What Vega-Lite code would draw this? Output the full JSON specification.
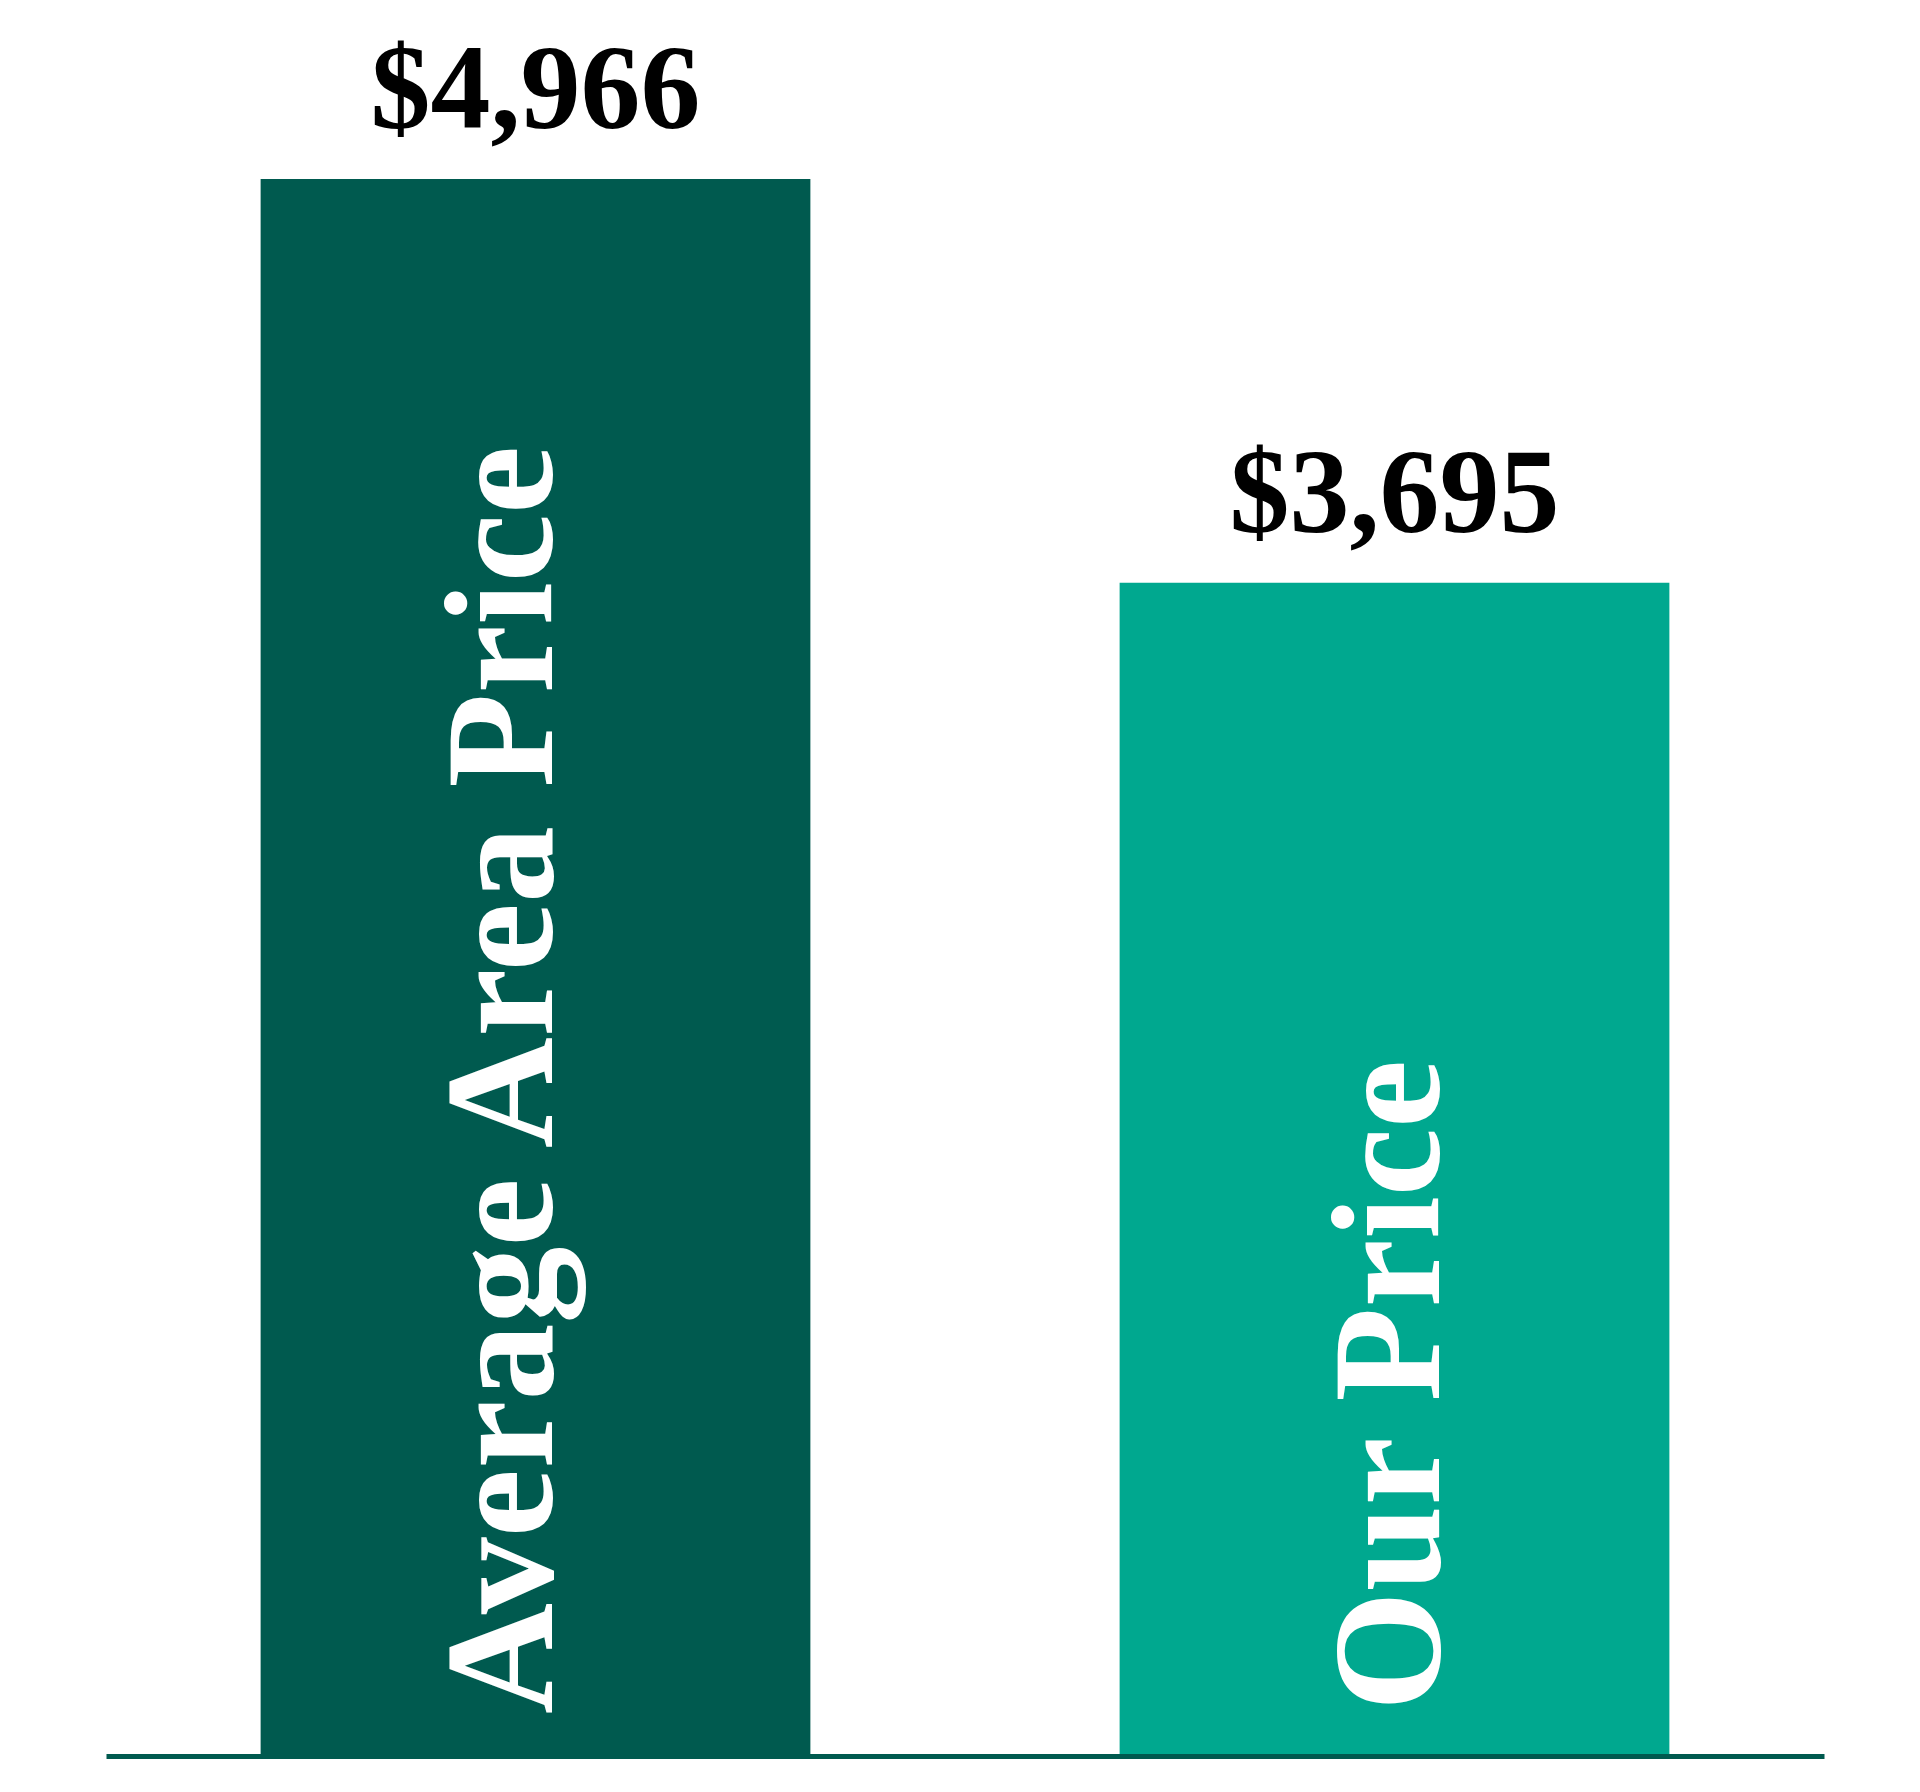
{
  "$schema": "https://vega.github.io/schema/vega-lite/v6.json",
  "background": "#ffffff",
  "autosize": {"type": "none"},
  "padding": {"left": 106, "top": 0, "right": 96, "bottom": 36},
  "width": 1718,
  "height": 1756,
  "view": {"stroke": null},
  "data": {
    "values": [
      {"label": "Average Area Price", "value": 4966},
      {"label": "Our Price", "value": 3695}
    ]
  },
  "encoding": {
    "x": {
      "field": "label", "type": "nominal", "sort": null,
      "scale": {"paddingInner": 0.36, "paddingOuter": 0.18},
      "axis": {
        "title": null, "labels": false, "ticks": false, "grid": false,
        "domainColor": "#005A4F", "domainWidth": 5, "zindex": 1
      }
    },
    "y": {
      "field": "value", "type": "quantitative",
      "scale": {"domain": [0, 5530], "nice": false, "zero": true},
      "axis": null
    },
    "color": {
      "field": "label", "type": "nominal",
      "scale": {"domain": ["Average Area Price", "Our Price"], "range": ["#005A4F", "#00A88F"]},
      "legend": null
    }
  },
  "layer": [
    {"mark": {"type": "bar"}},
    {
      "mark": {
        "type": "text", "font": "Liberation Serif", "fontWeight": "bold",
        "fontSize": 120, "baseline": "alphabetic", "align": "center",
        "dy": -51, "color": "#000000"
      },
      "encoding": {
        "text": {"field": "value", "type": "quantitative", "format": "$,.0f"},
        "color": {"value": "#000000"}
      }
    },
    {
      "transform": [{"filter": "datum.label == 'Average Area Price'"}],
      "mark": {
        "type": "text", "font": "Liberation Serif", "fontWeight": "bold",
        "fontSize": 154, "angle": 270, "align": "left", "baseline": "alphabetic",
        "dx": 42, "dy": 16
      },
      "encoding": {
        "y": {"datum": 0, "type": "quantitative"},
        "text": {"field": "label"},
        "color": {"value": "#ffffff"}
      }
    },
    {
      "transform": [{"filter": "datum.label == 'Our Price'"}],
      "mark": {
        "type": "text", "font": "Liberation Serif", "fontWeight": "bold",
        "fontSize": 154, "angle": 270, "align": "left", "baseline": "alphabetic",
        "dx": 45, "dy": 44
      },
      "encoding": {
        "y": {"datum": 0, "type": "quantitative"},
        "text": {"field": "label"},
        "color": {"value": "#ffffff"}
      }
    }
  ]
}
